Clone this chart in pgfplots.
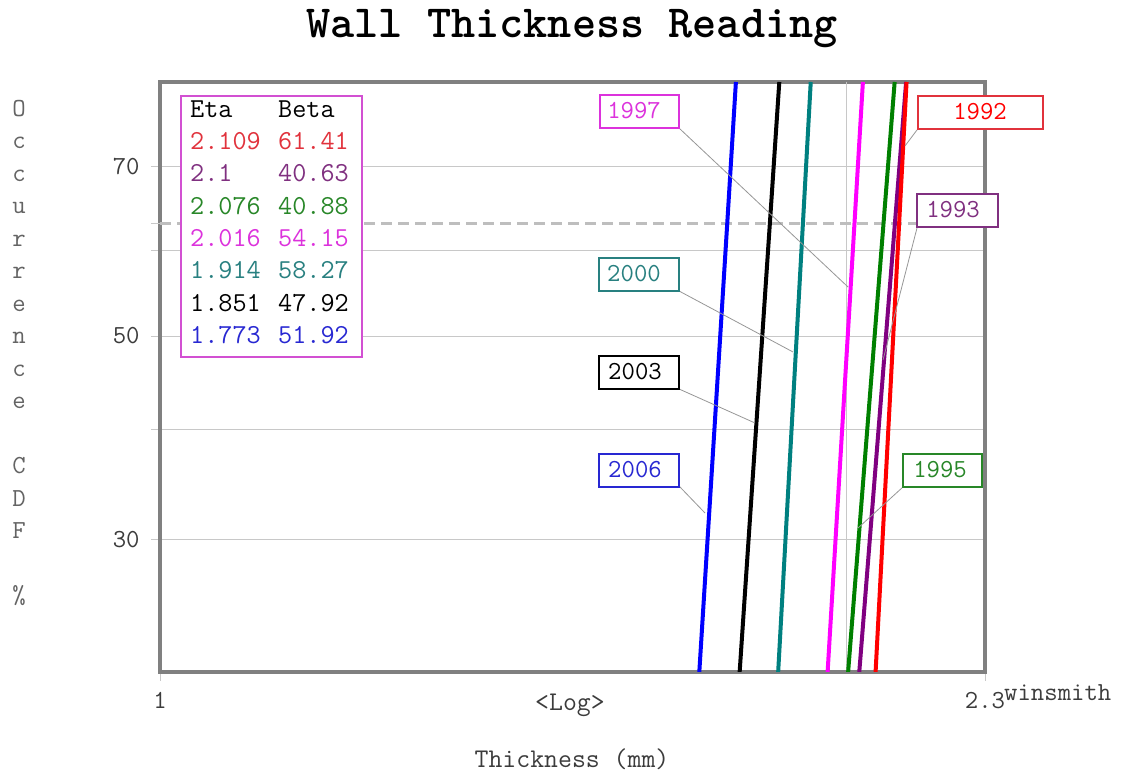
\documentclass[border=0pt]{standalone}
\usepackage{pgfplots}
\pgfplotsset{compat=1.18}
\definecolor{framegray}{RGB}{128,128,128}
\definecolor{gridgray}{RGB}{200,200,200}
\definecolor{dashgray}{RGB}{190,190,190}
\definecolor{leadgray}{RGB}{150,150,150}
\definecolor{txtgray}{RGB}{60,60,60}
\definecolor{labgray}{RGB}{100,100,100}
\definecolor{cred}{RGB}{255,0,0}
\definecolor{cpurple}{RGB}{128,0,128}
\definecolor{cgreen}{RGB}{0,128,0}
\definecolor{cmag}{RGB}{255,0,255}
\definecolor{cteal}{RGB}{0,128,128}
\definecolor{cblue}{RGB}{0,0,255}
\definecolor{tred}{RGB}{225,50,60}
\definecolor{tpurple}{RGB}{128,48,128}
\definecolor{tgreen}{RGB}{40,135,40}
\definecolor{tmag}{RGB}{220,50,220}
\definecolor{tteal}{RGB}{40,128,128}
\definecolor{tblue}{RGB}{40,40,210}
\definecolor{boxmag}{RGB}{210,80,210}
\newcommand{\fz}[1]{\ttfamily\fontsize{#1}{#1}\selectfont}
\begin{document}
\begin{tikzpicture}[x=1bp,y=1bp]
\useasboundingbox (0,0) rectangle (1129,771);
\begin{axis}[
  at={(160bp,99bp)}, anchor=south west,
  width=825bp, height=590bp, scale only axis,
  xmode=log, xmin=1, xmax=2.3,
  ymin=-1.461, ymax=0.461,
  xtick={1,2.3}, xticklabels={1,2.3},
  extra x ticks={2}, extra x tick labels={},
  extra x tick style={xmajorgrids=true, major tick length=0pt},
  ytick={-1.03093,-0.67173,-0.36651,-0.08742,0.18563},
  yticklabels={30,,50,,70},
  extra y ticks={0}, extra y tick labels={},
  extra y tick style={ymajorgrids=false},
  ymajorgrids=true,
  xtick pos=bottom, ytick pos=left,
  major grid style={draw=gridgray, line width=1bp},
  tick align=outside, major tick length=9bp,
  tick style={draw=gridgray, line width=1bp},
  minor tick num=0,
  axis line style={draw=framegray, line width=4bp},
  ticklabel style={font=\fz{26bp}, text=txtgray},
  xticklabel style={yshift=-8bp},
  yticklabel style={xshift=-8bp},
  clip=true,
]
\draw[dashgray, line width=3bp, dash pattern=on 11bp off 6bp] (axis cs:1,0) -- (axis cs:2.3,0);
% Weibull fits (x at F bottom, eta at 63.2%, x at F top)
\addplot[cblue, line width=4bp] coordinates {(1.7238,-1.461) (1.773,0) (1.7888,0.461)};
\addplot[black, line width=4bp] coordinates {(1.7954,-1.461) (1.851,0) (1.8689,0.461)};
\addplot[cteal, line width=4bp] coordinates {(1.8666,-1.461) (1.914,0) (1.9292,0.461)};
\addplot[cmag, line width=4bp] coordinates {(1.9623,-1.461) (2.016,0) (2.0332,0.461)};
\addplot[cgreen, line width=4bp] coordinates {(2.0031,-1.461) (2.076,0) (2.0995,0.461)};
\addplot[cpurple, line width=4bp] coordinates {(2.0258,-1.461) (2.1,0) (2.1239,0.461)};
\addplot[cred, line width=4bp] coordinates {(2.0595,-1.461) (2.109,0) (2.1249,0.461)};
\end{axis}
\begin{scope}[shift={(0bp,771bp)}, x=1bp, y=-1bp]
% title
\node[font=\ttfamily\bfseries\fontsize{46bp}{46bp}\selectfont, text=black, anchor=base, inner sep=0pt] at (572,38) {Wall Thickness Reading};
% y label
\node[align=center, font=\ttfamily\fontsize{26bp}{32.5bp}\selectfont, text=labgray, inner sep=0pt] at (19,353)
  {O\\c\\c\\u\\r\\r\\e\\n\\c\\e\\\mbox{}\\C\\D\\F\\\mbox{}\\\%};
% x label
\node[font=\fz{27bp}, text=txtgray] at (572,759) {Thickness (mm)};
\node[font=\fz{27bp}, text=txtgray] at (570,705) {<Log>};
\node[font=\fz{26bp}, text=txtgray, anchor=west, inner sep=0pt] at (1004,693) {winsmith};
% parameter table
\draw[boxmag, line width=1.2bp, fill=white] (181,96) rectangle (362,357);
\begin{scope}[every node/.style={anchor=west, inner sep=0pt, font=\fz{27.4bp}}]
\node[text=black] at (190,109) {Eta};   \node[text=black] at (278,109) {Beta};
\node[text=tred] at (190,141) {2.109};  \node[text=tred] at (278,141) {61.41};
\node[text=tpurple] at (190,173) {2.1}; \node[text=tpurple] at (278,173) {40.63};
\node[text=tgreen] at (190,206) {2.076};\node[text=tgreen] at (278,206) {40.88};
\node[text=tmag] at (190,238) {2.016};  \node[text=tmag] at (278,238) {54.15};
\node[text=tteal] at (190,270) {1.914}; \node[text=tteal] at (278,270) {58.27};
\node[text=black] at (190,303) {1.851}; \node[text=black] at (278,303) {47.92};
\node[text=tblue] at (190,335) {1.773}; \node[text=tblue] at (278,335) {51.92};
\end{scope}
% leader lines
\begin{scope}[leadgray, line width=0.8bp]
\draw (680,129) -- (848,287);
\draw (917,130) -- (905,146);
\draw (917,228) -- (883,360);
\draw (679,291) -- (793,352);
\draw (679,389) -- (755,423);
\draw (679,486) -- (705,513);
\draw (903,487) -- (858,528);
\end{scope}
% year boxes
\begin{scope}[every node/.style={inner sep=0pt, font=\fz{26bp}}]
\draw[tmag, line width=1.2bp, fill=white] (600,95) rectangle (679,128);
\node[text=tmag] at (634,111) {1997};
\draw[tred, line width=1.2bp, fill=white] (918,96) rectangle (1043,129);
\node[text=cred] at (980,112) {1992};
\draw[tpurple, line width=1.2bp, fill=white] (917,194) rectangle (998,227);
\node[text=tpurple] at (953,210) {1993};
\draw[tteal, line width=1.2bp, fill=white] (599,258) rectangle (679,291);
\node[text=tteal] at (634,274) {2000};
\draw[black, line width=1.2bp, fill=white] (599,356) rectangle (679,389);
\node[text=black] at (635,372) {2003};
\draw[tblue, line width=1.2bp, fill=white] (599,454) rectangle (679,487);
\node[text=tblue] at (635,470) {2006};
\draw[tgreen, line width=1.2bp, fill=white] (903,454) rectangle (982,487);
\node[text=tgreen] at (940,470) {1995};
\end{scope}
\end{scope}
\end{tikzpicture}
\end{document}
